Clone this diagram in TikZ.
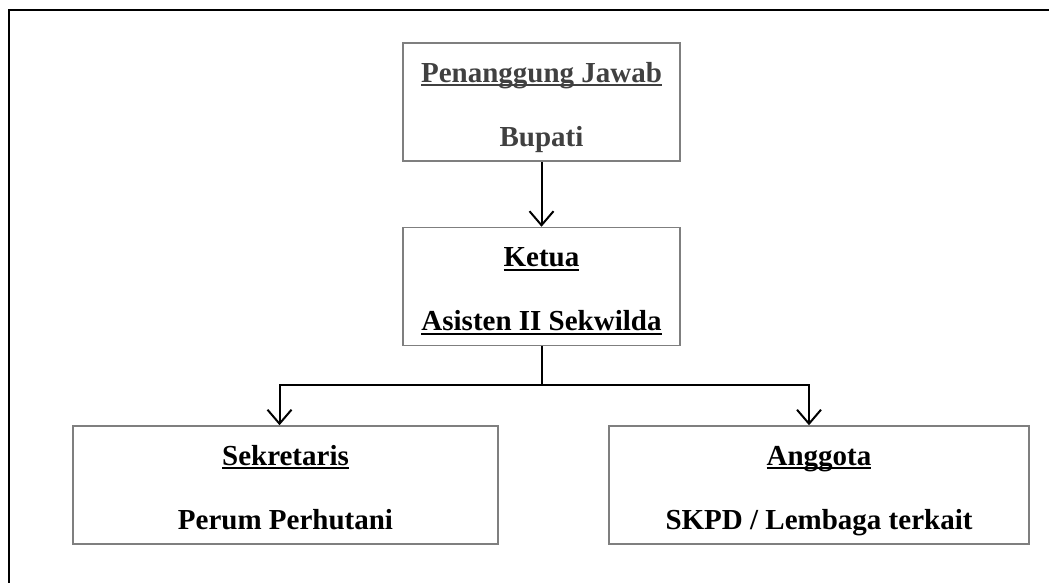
\documentclass[tikz,border=0pt]{standalone}
\usepackage{fontspec}
\setmainfont{Liberation Serif}
\usepackage{xcolor}
\usetikzlibrary{arrows.meta,positioning}
\definecolor{boxline}{HTML}{7F7F7F}
\definecolor{headtxt}{HTML}{404040}
\newcommand{\uln}[1]{\leavevmode\setbox0\hbox{#1}\rlap{\rule[-4pt]{\wd0}{2.2pt}}\box0\vphantom{Apg}}
\newcommand{\lne}[1]{#1\vphantom{Apg}}
\newcommand{\hdln}[1]{\rule{0pt}{31pt}\uln{#1}}% title line, pushed a bit down
\tikzset{
  orgbox/.style={draw=boxline,line width=1.5pt,inner sep=0pt,align=center,
    minimum height=118pt,font=\bfseries\fontsize{29}{64}\selectfont},
  link/.style={line width=2pt,draw=black},
  linkarr/.style={link,-{Straight Barb[length=14pt,width=24pt,line width=2pt]}},
  frame/.style={line width=2.2pt,draw=black},
}

\begin{document}
\begin{tikzpicture}[x=1pt,y=1pt,node distance=65pt]
  \useasboundingbox (0,0) rectangle (1049,-583);
  \draw[frame] (9,-583) |- (1049,-10);
  \node[orgbox,minimum width=277pt,text=headtxt] (pj) at (541.5,-102)
    {\hdln{Penanggung Jawab}\\\lne{Bupati}};
  \node[orgbox,minimum width=277pt,below=of pj] (ketua)
    {\hdln{Ketua}\\\uln{Asisten II Sekwilda}};
  \node[orgbox,minimum width=425pt] (sek) at (285.5,-485)
    {\hdln{Sekretaris}\\\lne{Perum Perhutani}};
  \node[orgbox,minimum width=420pt] (ang) at (819,-485)
    {\hdln{Anggota}\\\lne{SKPD / Lembaga terkait}};
  \draw[linkarr] (pj) -- (ketua);
  \draw[link] (ketua.south) -- ++(0,-39pt) coordinate (split);
  \draw[linkarr] (split) -| ([xshift=-6pt]sek.north);
  \draw[linkarr] (split) -| ([xshift=-10pt]ang.north);
\end{tikzpicture}
\end{document}
